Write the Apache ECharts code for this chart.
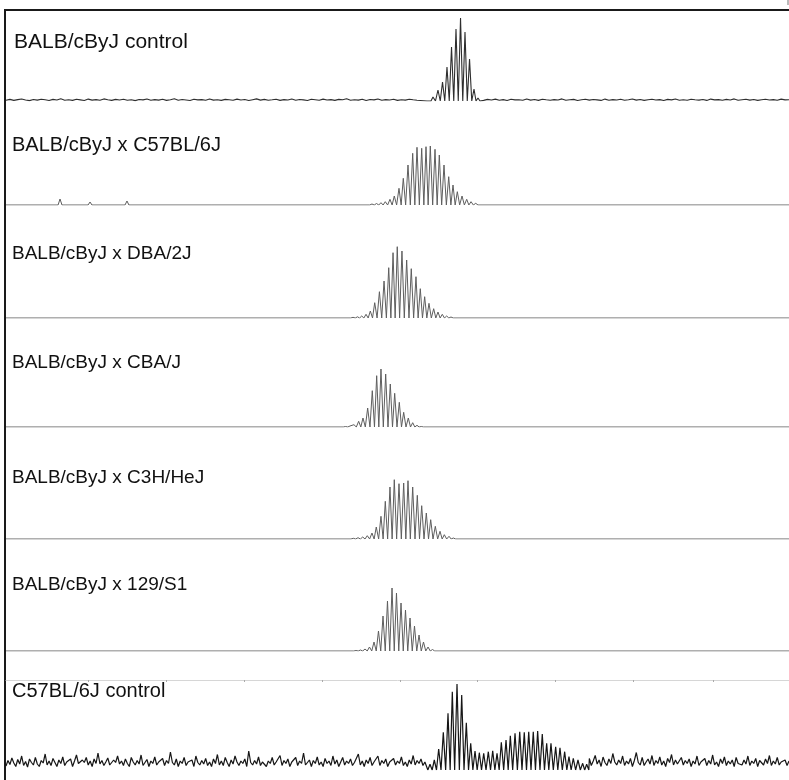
<!DOCTYPE html>
<html>
<head>
<meta charset="utf-8">
<script src="https://cdn.jsdelivr.net/npm/echarts@6/dist/echarts.min.js"></script>
<style>
html,body{margin:0;padding:0;background:#fff;}
#chart{width:789px;height:780px;}
</style>
</head>
<body>
<div id="chart"></div>
<script>
// ---- Data (x: relative run position 0-100, y: signal intensity) ----
const panelLabels = [
  "BALB/cByJ control",
  "BALB/cByJ x C57BL/6J",
  "BALB/cByJ x DBA/2J",
  "BALB/cByJ x CBA/J",
  "BALB/cByJ x C3H/HeJ",
  "BALB/cByJ x 129/S1",
  "C57BL/6J control"
];

const markerTicks = [10.47, 20.43, 30.40, 40.36, 50.32, 60.15, 70.11, 80.08, 90.29];

// Panel 1 - BALB/cByJ control
const p1PeakX = [54.02, 54.53, 55.17, 55.75, 56.32, 56.90, 57.47, 58.05, 58.62, 59.20, 59.77, 60.28];
const p1PeakY = [10, 40, 110, 190, 340, 540, 720, 830, 690, 420, 120, 30];
const p1NoiseLeft = [
  8,16,6,14,20,10,4,15,9,18,12,5,16,10,22,8,13,6,17,11,
  5,19,9,14,7,21,12,6,16,10,18,8,13,4,15,11,20,7,14,9,
  17,6,12,22,8,15,10,5,18,11,14,7,20,9,13,6,16,12,8,19,
  10,15,5,13,21,9,16,7,12,18,6,14,10,20,8,15,11,5,17,12,
  7,19,10,14,6,16,12,22,8,13,9,18,5,15,11,20,7,14,10,17,
  6,13,9,18,12,8
];
const p1NoiseRight = [
  12,6,16,10,19,8,14,5,17,11,13,7,20,9,15,6,18,12,8,14,
  10,21,7,13,16,5,12,18,9,15,11,6,19,8,14,10,17,7,13,20,
  9,15,6,12,18,10,14,5,16,11,20,8,13,7,17,12,9,15,6,19,
  11,14,8,16,10,21,7,13,18,9,15,6,12,17,10,14,8,19,11,13
];

// Panel 2 - x C57BL/6J
const p2PeakX = [46.74, 47.32, 47.89, 48.44, 49.04, 49.59, 50.19, 50.74, 51.34, 51.94, 52.49, 53.09, 53.64, 54.19, 54.79, 55.34, 55.94, 56.54, 57.09, 57.64, 58.24, 58.84, 59.39, 59.99];
const p2PeakY = [10, 15, 23, 33, 57, 90, 167, 267, 400, 517, 577, 567, 583, 590, 557, 500, 400, 283, 200, 133, 90, 57, 33, 17];
const p2SpikeX = [6.90, 10.73, 15.45, 26.44];
const p2SpikeY = [60, 30, 40, 20];

// Panel 3 - x DBA/2J
const p3PeakX = [44.32, 44.89, 45.43, 45.98, 46.53, 47.09, 47.69, 48.28, 48.88, 49.43, 49.97, 50.57, 51.17, 51.76, 52.36, 52.91, 53.47, 54.02, 54.62, 55.17, 55.72, 56.28, 56.83];
const p3PeakY = [7, 12, 20, 37, 70, 153, 263, 370, 503, 653, 713, 670, 580, 493, 413, 293, 213, 147, 93, 60, 37, 20, 10];

// Panel 4 - x CBA/J
const p4PeakX = [43.36, 43.93, 44.44, 45.04, 45.59, 46.19, 46.78, 47.34, 47.89, 48.49, 49.08, 49.64, 50.23, 50.79, 51.38, 51.94, 52.49, 53.04];
const p4PeakY = [5, 10, 23, 57, 90, 190, 363, 513, 580, 530, 430, 337, 247, 147, 90, 43, 17, 5];

// Panel 5 - x C3H/HeJ
const p5PeakX = [44.36, 44.96, 45.56, 46.14, 46.74, 47.29, 47.89, 48.44, 49.04, 49.59, 50.19, 50.79, 51.34, 51.94, 52.53, 53.09, 53.68, 54.24, 54.83, 55.43, 55.98, 56.58, 57.13];
const p5PeakY = [7, 13, 20, 33, 60, 120, 227, 377, 520, 593, 553, 560, 583, 520, 437, 333, 260, 193, 127, 77, 43, 27, 10];

// Panel 6 - x 129/S1
const p6PeakX = [44.70, 45.27, 45.85, 46.42, 47.00, 47.57, 48.15, 48.72, 49.30, 49.87, 50.45, 51.02, 51.60, 52.17, 52.75, 53.32, 53.90, 54.47];
const p6PeakY = [5, 10, 20, 40, 90, 200, 350, 500, 630, 580, 480, 410, 330, 250, 160, 90, 40, 15];

// Panel 7 - C57BL/6J control
const p7PeakX = [54.15, 54.70, 55.26, 55.85, 56.45, 57.00, 57.60, 58.20, 58.79, 59.35, 59.90, 60.45, 61.01, 61.60, 62.16, 62.71, 63.26, 63.86, 64.41, 65.01, 65.61, 66.19, 66.76, 67.34, 67.90, 68.49, 69.05, 69.60, 70.20, 70.75, 71.35, 71.90, 72.45, 73.05, 73.65, 74.16];
const p7PeakY = [57, 100, 210, 377, 567, 783, 860, 750, 473, 267, 190, 173, 167, 183, 193, 167, 277, 300, 343, 367, 383, 377, 383, 383, 390, 360, 267, 267, 233, 223, 183, 133, 117, 100, 67, 57];
const p7NoiseLeft = [
  40,95,55,120,70,35,105,60,140,45,85,30,110,75,50,125,60,35,95,70,
  160,50,90,45,115,75,35,100,65,130,45,80,60,110,35,90,150,65,45,100,
  75,125,50,90,35,110,65,170,60,95,45,80,120,50,35,100,75,140,60,90,
  45,110,65,35,125,80,50,95,60,150,45,75,105,35,90,65,130,50,80,60,
  115,45,95,65,180,75,50,110,35,90,65,125,45,80,60,100,35,140,75,50,
  95,60,115,45,80,35,110,65,155,50,90,45,125,75,35,100,60,140,80,45,
  90,65,110,35,190,75,50,95,60,130,45,80,100,35,90,65,125,50,80,60,
  145,45,95,65,110,35,80,60,125,45,90,65,170,50,75,100,35,95,65,130,
  50,80,35,115,65,90,45,140,60,100,35,80,125,50,90,65,110,45,75,60,
  160,50,90,35,100,65,125,45,80,60,140,45,95,65,110,35,80,60,115,50,
  90,65,130,45,80,35,100,60,145,50,95,65,110,45,80,60
];
const p7NoiseRight = [
  65,115,45,90,145,60,100,35,130,75,45,110,65,165,80,50,100,65,140,45,
  90,60,115,35,95,175,75,50,125,45,80,110,60,145,45,95,65,130,50,90,
  35,115,75,155,50,100,60,80,125,50,95,65,110,35,90,60,140,45,80,65,
  115,45,95,60,150,50,80,35,110,65,130,45,90,60,100,35,125,65,80,50,
  100,60,140,45,90,65,115,35,95,75,50,110,65,145,45,90,60,125,50,80,
  65,100,45,90
];

// ---- Build traces from the data ----
function samples(values, start, step) {
  return values.map((v, i) => [start + i * step, v]);
}
function buildTrace(baseline, groups) {
  const ranges = [];
  const pts = [];
  groups.forEach(g => {
    const xs = g.x, ys = g.y, n = xs.length;
    const half = n > 1 ? (xs[1] - xs[0]) / 2 : 0.25;
    const lo = xs[0] - half, hi = xs[n - 1] + half;
    ranges.push([lo, hi]);
    pts.push([lo, 0]);
    for (let i = 0; i < n; i++) {
      pts.push([xs[i], ys[i]]);
      if (i < n - 1) pts.push([(xs[i] + xs[i + 1]) / 2, 0]);
    }
    pts.push([hi, 0]);
  });
  baseline.forEach(p => {
    if (!ranges.some(r => p[0] >= r[0] && p[0] <= r[1])) pts.push(p);
  });
  pts.sort((a, b) => a[0] - b[0]);
  return pts;
}

const flat = [[0, 0], [100, 0]];
const traces = [
  buildTrace(samples(p1NoiseLeft, 0, 0.5).concat(samples(p1NoiseRight, 60.5, 0.5)), [{x: p1PeakX, y: p1PeakY}]),
  buildTrace(flat, [{x: p2PeakX, y: p2PeakY}].concat(p2SpikeX.map((x, i) => ({x: [x], y: [p2SpikeY[i]]})))),
  buildTrace(flat, [{x: p3PeakX, y: p3PeakY}]),
  buildTrace(flat, [{x: p4PeakX, y: p4PeakY}]),
  buildTrace(flat, [{x: p5PeakX, y: p5PeakY}]),
  buildTrace(flat, [{x: p6PeakX, y: p6PeakY}]),
  buildTrace(samples(p7NoiseLeft, 0, 0.25).concat(samples(p7NoiseRight, 74.25, 0.25)), [{x: p7PeakX, y: p7PeakY}])
];

// ---- Layout ----
const baselines = [101, 205, 318, 427, 539, 651, 770];
const panelHeights = [90, 90, 90, 90, 90, 90, 90];
const labelCenters = [42, 145, 254, 363, 478, 585, 691];
const labelLeft = [14, 12, 12, 12, 12, 12, 12];
const labelSizes = [21, 20, 19, 19, 19, 19, 20];
const lineColors = ['#2e2e2e', '#5e5e5e', '#5e5e5e', '#5e5e5e', '#5e5e5e', '#5e5e5e', '#161616'];
const lineWidths = [1.1, 1, 1, 1, 1, 1, 1.2];

const grids = [], xAxes = [], yAxes = [], series = [];
traces.forEach((t, i) => {
  grids.push({left: 6, right: 0, top: baselines[i] - panelHeights[i], height: panelHeights[i], containLabel: false});
  const isLast = i === traces.length - 1;
  xAxes.push({
    gridIndex: i, type: 'value', min: 0, max: 100,
    show: isLast,
    position: 'top',
    axisLine: {show: isLast, onZero: false, lineStyle: {color: '#d6d6d6', width: 1}},
    axisTick: {show: isLast, inside: true, length: 2, customValues: markerTicks, lineStyle: {color: '#aaa'}},
    axisLabel: {show: false},
    splitLine: {show: false}
  });
  yAxes.push({gridIndex: i, type: 'value', min: 0, max: panelHeights[i] * 10, show: false, splitLine: {show: false}});
  series.push({
    type: 'line', xAxisIndex: i, yAxisIndex: i, data: t,
    showSymbol: false, smooth: false, silent: true,
    lineStyle: {color: lineColors[i], width: lineWidths[i]}
  });
});

const graphics = [
  {type: 'polyline', shape: {points: [[5, 780], [5, 10], [789, 10]]}, style: {stroke: '#1a1a1a', lineWidth: 2, fill: null}, silent: true},
  {type: 'line', shape: {x1: 788, y1: 0, x2: 788, y2: 5}, style: {stroke: '#777', lineWidth: 1}, silent: true}
];
panelLabels.forEach((txt, i) => {
  graphics.push({
    type: 'text', x: labelLeft[i], y: labelCenters[i], silent: true,
    style: {text: txt, fill: '#111', fontSize: labelSizes[i], fontFamily: 'Liberation Sans, Arial, Helvetica, sans-serif', verticalAlign: 'middle', align: 'left'}
  });
});

const chart = echarts.init(document.getElementById('chart'), null, {renderer: 'canvas'});
chart.setOption({
  animation: false,
  backgroundColor: '#fff',
  grid: grids,
  xAxis: xAxes,
  yAxis: yAxes,
  series: series,
  graphic: graphics
});
</script>
</body>
</html>
